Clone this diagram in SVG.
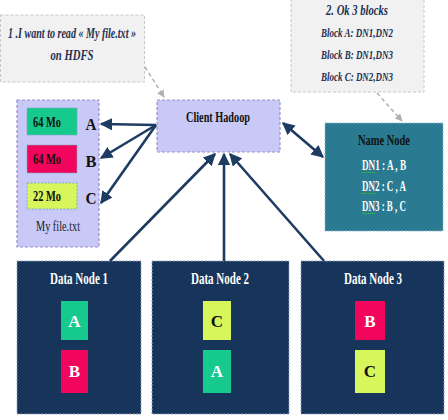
<svg xmlns="http://www.w3.org/2000/svg" width="448" height="420" viewBox="0 0 448 420">
<style>
text{font-family:"Liberation Serif","DejaVu Serif",serif;font-weight:bold;text-anchor:middle}
.note{fill:#F1F1F1;stroke:#C8C8C8;stroke-width:1;stroke-dasharray:3 2}
.nt{font-style:italic;fill:#1F3050}
.lav{fill:#C9C9F7;stroke:#9A8FD0;stroke-width:1.2;stroke-dasharray:3 2}
.dn{fill:#17345A;stroke:#8FA3BF;stroke-width:1;stroke-dasharray:2 1.5}
.w{fill:#fff}
.k{fill:#111}
.sq{stroke:#3FBF5A;stroke-width:1;fill:none;stroke-dasharray:1 1}
.conn{stroke:#1E3B62;stroke-width:2.6;fill:none}
.dash{stroke:#B0B0B0;stroke-width:1.5;fill:none;stroke-dasharray:4 3}
</style>
<defs>
<marker id="ah" viewBox="0 0 10 10" refX="9" refY="5" markerWidth="4.8" markerHeight="4.8" orient="auto-start-reverse" markerUnits="strokeWidth">
<path d="M0,0 L10,5 L0,10 z" fill="#1E3B62"/>
</marker>
<marker id="gh" viewBox="0 0 10 10" refX="9" refY="5" markerWidth="5" markerHeight="5" orient="auto" markerUnits="strokeWidth">
<path d="M0,0 L10,5 L0,10 z" fill="#B0B0B0"/>
</marker>
</defs>

<g id="note1" font-family="Liberation Serif, DejaVu Serif, serif">
<rect class="note" x="0.5" y="15" width="144" height="67"/>
<text class="nt" x="72" y="38" font-size="15" textLength="128" lengthAdjust="spacingAndGlyphs">1 .I want to read « My file.txt »</text>
<text class="nt" x="72" y="60" font-size="15" textLength="43" lengthAdjust="spacingAndGlyphs">on HDFS</text>
</g>

<g id="note2" font-family="Liberation Serif, DejaVu Serif, serif">
<rect class="note" x="291" y="-2" width="133" height="94"/>
<text class="nt" x="357" y="15" font-size="15" textLength="62" lengthAdjust="spacingAndGlyphs">2. Ok 3 blocks</text>
<text class="nt" x="357" y="37" font-size="13" textLength="72" lengthAdjust="spacingAndGlyphs">Block A: DN1,DN2</text>
<text class="nt" x="357" y="59" font-size="13" textLength="72" lengthAdjust="spacingAndGlyphs">Block B: DN1,DN3</text>
<text class="nt" x="357" y="81" font-size="13" textLength="72" lengthAdjust="spacingAndGlyphs">Block C: DN2,DN3</text>
</g>

<g id="file" font-family="Liberation Serif, DejaVu Serif, serif">
<rect class="lav" x="17" y="100" width="82" height="147"/>
<rect x="27" y="108" width="50" height="27" fill="#16C98D" stroke="#7FA8C8" stroke-width="1" stroke-dasharray="2 1.5"/>
<rect x="27" y="145" width="50" height="28" fill="#F2055C" stroke="#7FA8C8" stroke-width="1" stroke-dasharray="2 1.5"/>
<rect x="27" y="183" width="50" height="26" fill="#D6F65C" stroke="#7FA8C8" stroke-width="1" stroke-dasharray="2 1.5"/>
<text class="k" x="47" y="127" font-size="15" textLength="28" lengthAdjust="spacingAndGlyphs">64 Mo</text>
<text class="k" x="47" y="164" font-size="15" textLength="28" lengthAdjust="spacingAndGlyphs">64 Mo</text>
<text class="k" x="47" y="201" font-size="15" textLength="28" lengthAdjust="spacingAndGlyphs">22 Mo</text>
<text class="k" x="91" y="130" font-size="17" textLength="11" lengthAdjust="spacingAndGlyphs">A</text>
<text class="k" x="91" y="167" font-size="17" textLength="11" lengthAdjust="spacingAndGlyphs">B</text>
<text class="k" x="91" y="204" font-size="17" textLength="11" lengthAdjust="spacingAndGlyphs">C</text>
<text x="58" y="231" font-size="15" style="font-weight:normal" fill="#222" textLength="44" lengthAdjust="spacingAndGlyphs">My file.txt</text>
</g>

<g id="client" font-family="Liberation Serif, DejaVu Serif, serif">
<rect class="lav" x="157" y="100" width="123" height="52"/>
<text class="k" x="218" y="122" font-size="15" textLength="64" lengthAdjust="spacingAndGlyphs">Client Hadoop</text>
</g>

<g id="namenode" font-family="Liberation Serif, DejaVu Serif, serif">
<rect x="325" y="123" width="118" height="108" fill="#2A7B92" stroke="#8FB5C8" stroke-width="1" stroke-dasharray="2 1.5"/>
<text class="k" x="384" y="145" font-size="15" textLength="52" lengthAdjust="spacingAndGlyphs">Name Node</text>
<text class="w" x="384" y="170" font-size="14" textLength="44" lengthAdjust="spacingAndGlyphs">DN1 : A , B</text>
<text class="w" x="384" y="191" font-size="14" textLength="44" lengthAdjust="spacingAndGlyphs">DN2 : C , A</text>
<text class="w" x="384" y="211" font-size="14" textLength="44" lengthAdjust="spacingAndGlyphs">DN3 : B , C</text>
<line class="sq" x1="362" y1="172.5" x2="375" y2="172.5"/>
<line class="sq" x1="362" y1="193.5" x2="375" y2="193.5"/>
<line class="sq" x1="362" y1="213.5" x2="375" y2="213.5"/>
</g>

<g id="datanode1" font-family="Liberation Serif, DejaVu Serif, serif">
<rect class="dn" x="17" y="261" width="124" height="153"/>
<text class="w" x="79" y="284" font-size="16" textLength="58" lengthAdjust="spacingAndGlyphs">Data Node 1</text>
<rect x="61" y="301" width="27" height="39" fill="#16C98D"/>
<text class="w" x="74.5" y="327" font-size="17">A</text>
<rect x="61" y="350" width="27" height="43" fill="#F2055C"/>
<text class="w" x="74.5" y="377" font-size="17">B</text>
</g>

<g id="datanode2" font-family="Liberation Serif, DejaVu Serif, serif">
<rect class="dn" x="152" y="261" width="137" height="153"/>
<text class="w" x="220" y="284" font-size="16" textLength="58" lengthAdjust="spacingAndGlyphs">Data Node 2</text>
<rect x="203" y="301" width="28" height="39" fill="#D6F65C"/>
<text class="k" x="217" y="327" font-size="17">C</text>
<rect x="203" y="350" width="28" height="43" fill="#16C98D"/>
<text class="w" x="217" y="377" font-size="17">A</text>
</g>

<g id="datanode3" font-family="Liberation Serif, DejaVu Serif, serif">
<rect class="dn" x="301" y="261" width="143" height="153"/>
<text class="w" x="373" y="284" font-size="16" textLength="58" lengthAdjust="spacingAndGlyphs">Data Node 3</text>
<rect x="355" y="301" width="30" height="39" fill="#F2055C"/>
<text class="w" x="370" y="327" font-size="17">B</text>
<rect x="355" y="350" width="30" height="43" fill="#D6F65C"/>
<text class="k" x="370" y="377" font-size="17">C</text>
</g>

<g id="connectors">
<line class="dash" x1="145" y1="67" x2="164" y2="97" marker-end="url(#gh)"/>
<line class="dash" x1="377" y1="93" x2="402" y2="121" marker-end="url(#gh)"/>
<line class="conn" x1="156" y1="125" x2="101" y2="124" marker-end="url(#ah)"/>
<line class="conn" x1="156" y1="125" x2="101" y2="158" marker-end="url(#ah)"/>
<line class="conn" x1="156" y1="125" x2="101" y2="203" marker-end="url(#ah)"/>
<line class="conn" x1="283" y1="123" x2="323" y2="157" marker-start="url(#ah)" marker-end="url(#ah)"/>
<line class="conn" x1="110" y1="261" x2="215" y2="154" marker-end="url(#ah)"/>
<line class="conn" x1="224" y1="261" x2="224" y2="154" marker-end="url(#ah)"/>
<line class="conn" x1="324" y1="261" x2="230" y2="154" marker-end="url(#ah)"/>
</g>
</svg>
